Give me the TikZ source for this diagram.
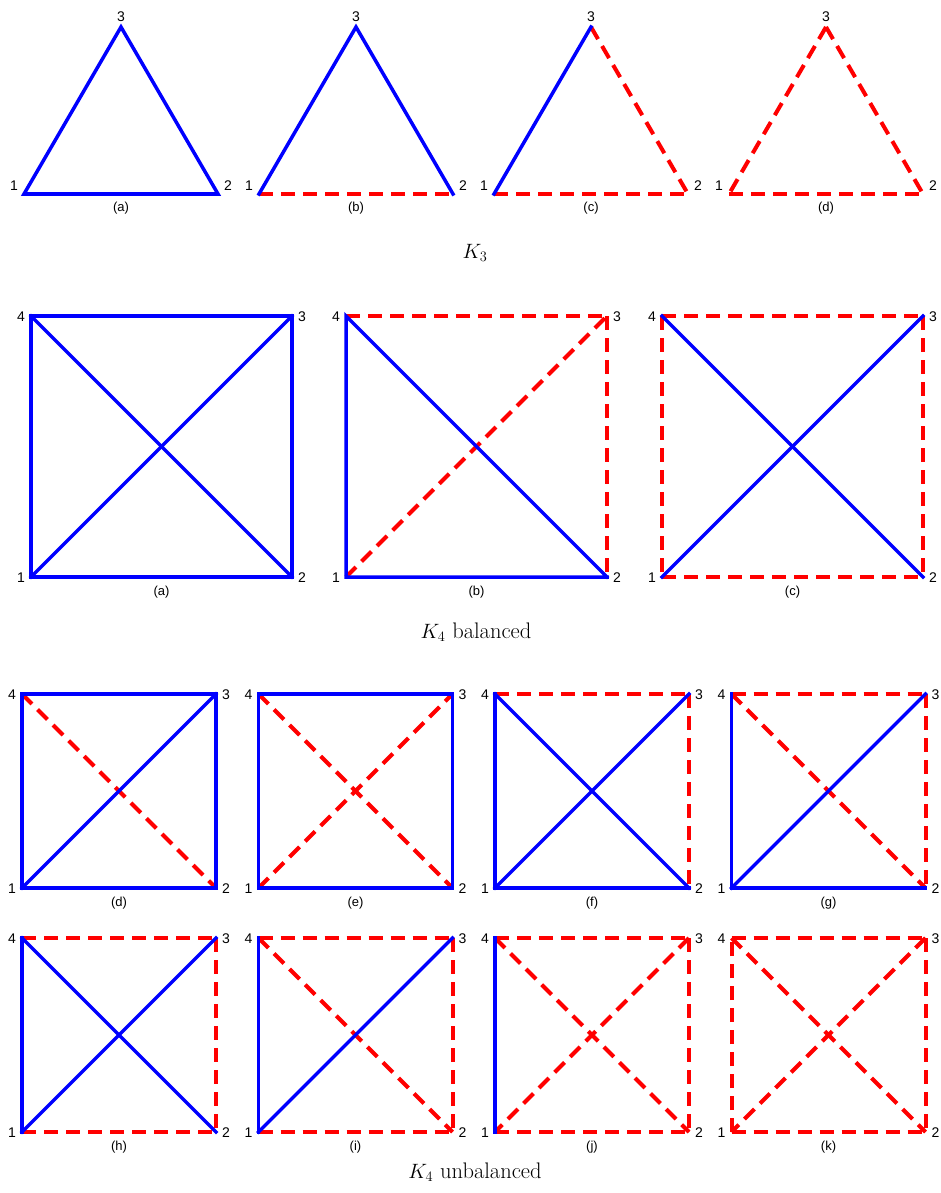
\documentclass[tikz,border=0pt]{standalone}
\usepackage{fontspec}
\newfontfamily\arialf{Liberation Sans}
\definecolor{eblue}{RGB}{0,0,255}
\definecolor{ered}{RGB}{255,0,0}
\tikzset{
  posedge/.style={draw=eblue, line width=3.5pt, line cap=rect},
  negedge/.style={draw=ered, line width=4pt, dash pattern=on 14pt off 8pt},
  vlab/.style={font=\arialf\fontsize{14}{14}\selectfont, inner sep=0pt},
  panellab/.style={font=\arialf\fontsize{13}{13}\selectfont, inner sep=0pt},
  titlelab/.style={font=\fontsize{22.5}{26}\selectfont, inner sep=0pt, anchor=base}
}
% triangle: #1 prefix, #2 left x, #3 panel label
\newcommand\TriNodes[3]{%
  \coordinate (#1-1) at (#2,194);
  \coordinate (#1-2) at ({#2+194},194);
  \coordinate (#1-3) at ({#2+97},27);
  \node[vlab] (#1-l1) at ({#2-10},186) {1};
  \node[vlab] (#1-l2) at ({#2+204},186) {2};
  \node[vlab] (#1-l3) at ({#2+97},17) {3};
  \node[panellab] (#1-p) at ({#2+97},208) {#3};
}
% square: #1 prefix, #2 left x, #3 top y, #4 size, #5 panel label
\newcommand\SqNodes[5]{%
  \coordinate (#1-1) at (#2,{#3+#4});
  \coordinate (#1-2) at ({#2+#4},{#3+#4});
  \coordinate (#1-3) at ({#2+#4},#3);
  \coordinate (#1-4) at (#2,#3);
  \node[vlab] (#1-l1) at ({#2-10},{#3+#4+1}) {1};
  \node[vlab] (#1-l2) at ({#2+#4+10},{#3+#4+1}) {2};
  \node[vlab] (#1-l3) at ({#2+#4+10},{#3+1}) {3};
  \node[vlab] (#1-l4) at ({#2-10},{#3+1}) {4};
  \node[panellab] (#1-p) at ({#2+#4/2},{#3+#4+15}) {#5};
}
\begin{document}
\begin{tikzpicture}[x=1pt,y=-1pt]
\useasboundingbox[fill=white] (0,0) rectangle (940,1193);

% ---------- K3 ----------
\TriNodes{ta}{24}{(a)}
\TriNodes{tb}{259}{(b)}
\TriNodes{tc}{494}{(c)}
\TriNodes{td}{729}{(d)}
\draw[posedge] (ta-1) -- (ta-2) -- (ta-3) -- cycle;
\draw[negedge] (tb-1) -- (tb-2);
\draw[posedge] (tb-2) -- (tb-3) -- (tb-1);
\draw[negedge] (tc-1) -- (tc-2);
\draw[negedge] (tc-3) -- (tc-2);
\draw[posedge] (tc-1) -- (tc-3);
\draw[negedge] (td-1) -- (td-2);
\draw[negedge] (td-3) -- (td-2);
\draw[negedge] (td-3) -- (td-1);
\node[titlelab] (k3) at (475,258) {$K_3$};

% ---------- K4 balanced ----------
\SqNodes{ba}{31}{316}{261}{(a)}
\SqNodes{bb}{346}{316}{261}{(b)}
\SqNodes{bc}{662}{316}{261}{(c)}
\draw[posedge] (ba-1) -- (ba-2) -- (ba-3) -- (ba-4) -- cycle;
\draw[posedge] (ba-1) -- (ba-3);
\draw[posedge] (ba-4) -- (ba-2);
% (b)
\draw[negedge] (bb-4) -- (bb-3);
\draw[negedge] (bb-3) -- (bb-2);
\draw[negedge] (bb-1) -- (bb-3);
\draw[posedge] (bb-2) -- (bb-1) -- (bb-4) -- (bb-2);
% (c)
\draw[negedge] (bc-1) -- (bc-2);
\draw[negedge] (bc-4) -- (bc-3);
\draw[negedge] (bc-3) -- (bc-2);
\draw[negedge] (bc-4) -- (bc-1);
\draw[posedge] (bc-1) -- (bc-3);
\draw[posedge] (bc-4) -- (bc-2);
\node[titlelab] (k4b) at (476,638) {$K_4$ balanced};

% ---------- K4 unbalanced ----------
\SqNodes{ud}{22}{694}{194}{(d)}
\SqNodes{ue}{258.5}{694}{194}{(e)}
\SqNodes{uf}{495}{694}{194}{(f)}
\SqNodes{ug}{731.5}{694}{194}{(g)}
\SqNodes{uh}{22}{938}{194}{(h)}
\SqNodes{ui}{258.5}{938}{194}{(i)}
\SqNodes{uj}{495}{938}{194}{(j)}
\SqNodes{uk}{731.5}{938}{194}{(k)}
% (d)
\draw[negedge] (ud-4) -- (ud-2);
\draw[posedge] (ud-1) -- (ud-2) -- (ud-3) -- (ud-4) -- cycle;
\draw[posedge] (ud-1) -- (ud-3);
% (e)
\draw[negedge] (ue-4) -- (ue-2);
\draw[negedge] (ue-1) -- (ue-3);
\draw[posedge] (ue-1) -- (ue-2) -- (ue-3) -- (ue-4) -- cycle;
% (f)
\draw[negedge] (uf-4) -- (uf-3);
\draw[negedge] (uf-3) -- (uf-2);
\draw[posedge] (uf-2) -- (uf-1) -- (uf-4);
\draw[posedge] (uf-1) -- (uf-3);
\draw[posedge] (uf-4) -- (uf-2);
% (g)
\draw[negedge] (ug-4) -- (ug-3);
\draw[negedge] (ug-3) -- (ug-2);
\draw[negedge] (ug-4) -- (ug-2);
\draw[posedge] (ug-2) -- (ug-1) -- (ug-4);
\draw[posedge] (ug-1) -- (ug-3);
% (h)
\draw[negedge] (uh-1) -- (uh-2);
\draw[negedge] (uh-4) -- (uh-3);
\draw[negedge] (uh-3) -- (uh-2);
\draw[posedge] (uh-1) -- (uh-4);
\draw[posedge] (uh-1) -- (uh-3);
\draw[posedge] (uh-4) -- (uh-2);
% (i)
\draw[negedge] (ui-1) -- (ui-2);
\draw[negedge] (ui-4) -- (ui-3);
\draw[negedge] (ui-3) -- (ui-2);
\draw[negedge] (ui-4) -- (ui-2);
\draw[posedge] (ui-1) -- (ui-4);
\draw[posedge] (ui-1) -- (ui-3);
% (j)
\draw[negedge] (uj-1) -- (uj-2);
\draw[negedge] (uj-4) -- (uj-3);
\draw[negedge] (uj-3) -- (uj-2);
\draw[negedge] (uj-4) -- (uj-2);
\draw[negedge] (uj-3) -- (uj-1);
\draw[posedge] (uj-1) -- (uj-4);
% (k)
\draw[negedge] (uk-1) -- (uk-2);
\draw[negedge] (uk-4) -- (uk-3);
\draw[negedge] (uk-3) -- (uk-2);
\draw[negedge] (uk-4) -- (uk-2);
\draw[negedge] (uk-3) -- (uk-1);
\draw[negedge] (uk-1) -- (uk-4);
\node[titlelab] (k4u) at (475,1178) {$K_4$ unbalanced};
\end{tikzpicture}
\end{document}
